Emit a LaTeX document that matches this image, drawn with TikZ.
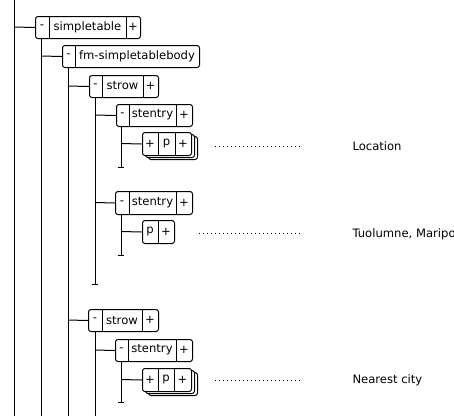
\documentclass[tikz,border=0pt]{standalone}
\usepackage{fontspec}
\setmainfont{DejaVu Sans}
\usetikzlibrary{calc}
\begin{document}
\begin{tikzpicture}[x=1pt,y=-1pt,
  line width=1pt,
  box/.style={draw,rounded corners=2.5pt,inner sep=0pt,anchor=north west,fill=white},
  cell/.style={inner sep=0pt,font=\fontsize{11.6}{13}\selectfont},
  lbl/.style={inner sep=0pt,anchor=west,font=\fontsize{11.6}{13}\selectfont},
  dots/.style={line width=0.8pt,dash pattern=on 0.8pt off 3.2pt}]
\clip (0,0) rectangle (454,416);
\fill[white] (0,0) rectangle (454,416);
% simpletable
\node[box,minimum width=105pt,minimum height=22pt] (st) at (35,16) {};
\draw (49,16) -- (49,38) (126,16) -- (126,38);
\node[cell] (st1) at (42,27) {-};
\node[cell] (st2) at (87.5,27) {simpletable};
\node[cell] (st3) at (133,27) {+};
% fm-simpletablebody
\node[box,minimum width=137pt,minimum height=22pt] (fm) at (62,45) {};
\draw (75,45) -- (75,67);
\node[cell] (fm1) at (68.5,56) {-};
\node[cell] (fm2) at (137,56) {fm-simpletablebody};
% strow 1
\node[box,minimum width=69pt,minimum height=22pt] (sr1) at (89,75) {};
\draw (102,75) -- (102,97) (143,75) -- (143,97);
\node[cell] (sr1a) at (95.5,86) {-};
\node[cell] (sr1b) at (122.5,86) {strow};
\node[cell] (sr1c) at (150.5,86) {+};
% stentry 1
\node[box,minimum width=76pt,minimum height=22pt] (se1) at (116,104) {};
\draw (129,104) -- (129,126) (176,104) -- (176,126);
\node[cell] (se1a) at (122.5,115) {-};
\node[cell] (se1b) at (152.5,115) {stentry};
\node[cell] (se1c) at (184,115) {+};
% p stack 1
\node[box,minimum width=49pt,minimum height=23pt] (p1s2) at (148,136) {};
\node[box,minimum width=49pt,minimum height=23pt] (p1s1) at (145,134) {};
\node[box,minimum width=49pt,minimum height=23pt] (p1) at (142,132) {};
\draw (158,132) -- (158,155) (175,132) -- (175,155);
\node[cell] (p1a) at (150,143.5) {+};
\node[cell] (p1b) at (166.5,143.5) {p};
\node[cell] (p1c) at (183,143.5) {+};
% stentry 2
\node[box,minimum width=77pt,minimum height=23pt] (se2) at (115,191) {};
\draw (129,191) -- (129,214) (176,191) -- (176,214);
\node[cell] (se2a) at (122,202.5) {-};
\node[cell] (se2b) at (152.5,202.5) {stentry};
\node[cell] (se2c) at (184,202.5) {+};
% p 2
\node[box,minimum width=32pt,minimum height=23pt] (p2) at (142,220) {};
\draw (158,220) -- (158,243);
\node[cell] (p2a) at (150,231.5) {p};
\node[cell] (p2b) at (166,231.5) {+};
% strow 2
\node[box,minimum width=70pt,minimum height=22pt] (sr2) at (88,309) {};
\draw (102,309) -- (102,331) (142,309) -- (142,331);
\node[cell] (sr2a) at (95,320) {-};
\node[cell] (sr2b) at (122,320) {strow};
\node[cell] (sr2c) at (150,320) {+};
% stentry 3
\node[box,minimum width=77pt,minimum height=22pt] (se3) at (115,339) {};
\draw (128,339) -- (128,361) (176,339) -- (176,361);
\node[cell] (se3a) at (121.5,350) {-};
\node[cell] (se3b) at (152,350) {stentry};
\node[cell] (se3c) at (184,350) {+};
% p stack 3
\node[box,minimum width=49pt,minimum height=23pt] (p3s2) at (148,372) {};
\node[box,minimum width=49pt,minimum height=23pt] (p3s1) at (145,370) {};
\node[box,minimum width=49pt,minimum height=23pt] (p3) at (142,368) {};
\draw (158,368) -- (158,391) (174,368) -- (174,391);
\node[cell] (p3a) at (150,379.5) {+};
\node[cell] (p3b) at (166,379.5) {p};
\node[cell] (p3c) at (182.5,379.5) {+};
% tree lines
\coordinate (r0) at (14,0); \coordinate (r1) at (14,416);
\draw (r0) -- (r1);
\draw (14,27) -- (st.west);
\coordinate (v1) at (41,416);
\draw (41,38) -- (v1);
\draw (41,56) -- (fm.west);
\coordinate (v2) at (68,416);
\draw (68,67) -- (v2);
\draw (68,86) -- (sr1.west);
\draw (68,320) -- (sr2.west);
\coordinate (t1) at (95,284);
\draw (95,97) -- (t1);
\draw ($(t1)+(-3,0)$) -- ($(t1)+(3,0)$);
\draw (95,115) -- (se1.west);
\draw (95,202.5) -- (se2.west);
\coordinate (t2) at (121,167);
\draw (121,126) -- (t2);
\draw (118,167) -- (124,167);
\draw (121,143.5) -- (p1.west);
\coordinate (t3) at (121,255);
\draw (121,214) -- (t3);
\draw (118,255) -- (124,255);
\draw (121,231.5) -- (p2.west);
\coordinate (v3) at (95,416);
\draw (95,331) -- (v3);
\draw (95,350) -- (se3.west);
\coordinate (t4) at (121,402);
\draw (121,361) -- (t4);
\draw (118,402) -- (124,402);
\draw (121,379.5) -- (p3.west);
% dotted leaders and labels
\node[lbl] (l1) at (352,146) {Location};
\node[lbl] (l2) at (352,234) {Tuolumne, Mariposa};
\node[lbl] (l3) at (352,380) {Nearest city};
\draw[dots] (215,146) -- (300,146);
\draw[dots] (199,233) -- (300,233);
\draw[dots] (215,380) -- (300,380);
\end{tikzpicture}
\end{document}
